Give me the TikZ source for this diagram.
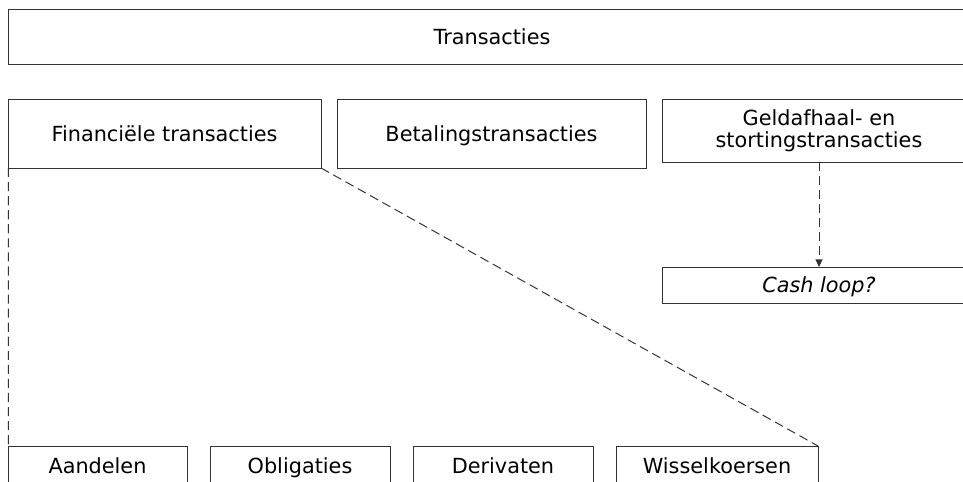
\documentclass[tikz,border=0pt]{standalone}
\usepackage{fontspec}
\setmainfont{DejaVu Sans}
\usetikzlibrary{arrows.meta}

\begin{document}
\begin{tikzpicture}[box/.style={draw=black!80, line width=0.7pt, rectangle, inner sep=0pt, outer sep=0pt, align=center, font=\fontsize{14.8}{16}\selectfont},
  oneline/.style={text height=12.5pt, text depth=1.7pt},
  link/.style={draw=black!80, line width=0.7pt, dash pattern=on 6.5pt off 3.5pt}]
\useasboundingbox (0,0) rectangle (24.075,-12.025);
\clip (0,0) rectangle (24.075,-12.025);
\node[box, oneline, minimum width=24.2cm, minimum height=1.375cm] (trans) at (12.3,-0.9125){Transacties};
\node[box, oneline, minimum width=7.825cm, minimum height=1.725cm] (fin) at (4.1125,-3.3375){Financiële transacties};\node[box, oneline, minimum width=7.725cm, minimum height=1.725cm] (bet) at (12.2875,-3.3375){Betalingstransacties};\node[box, minimum width=7.85cm, minimum height=1.575cm] (geld) at (20.475,-3.2625){Geldafhaal- en\\stortingstransacties};
\node[box, oneline, minimum width=7.85cm, minimum height=0.9cm] (cash) at (20.475,-7.125){\itshape Cash loop?};
\node[box, oneline, minimum width=4.475cm, minimum height=1cm] (aand) at (2.4375,-11.65){Aandelen};\node[box, oneline, minimum width=4.5cm, minimum height=1cm] (obl) at (7.5,-11.65){Obligaties};\node[box, oneline, minimum width=4.5cm, minimum height=1cm] (der) at (12.575,-11.65){Derivaten};\node[box, oneline, minimum width=5.05cm, minimum height=1cm] (wis) at (17.925,-11.65){Wisselkoersen};

\draw[link] ([xshift=0.2pt]fin.south west)--([xshift=0.2pt]aand.north west);\draw[link] (fin.south east)--(wis.north east);
\draw[link, -{Triangle[length=5.5pt,width=5pt]}] (geld.south)--(cash.north);
\end{tikzpicture}
\end{document}
